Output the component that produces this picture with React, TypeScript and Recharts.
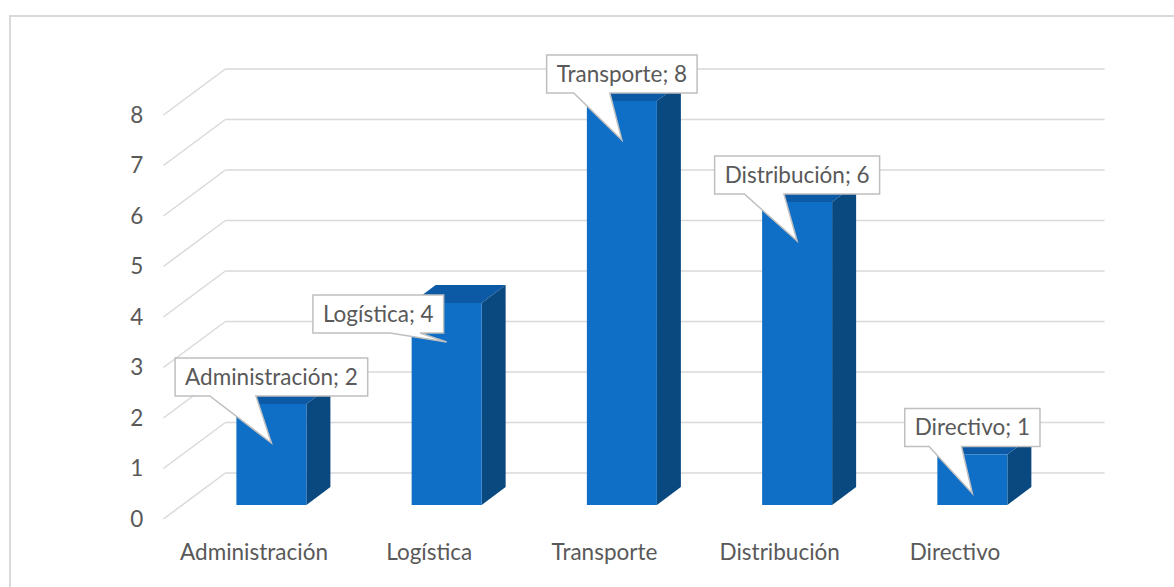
import React from "react";
import { BarChart, Bar, XAxis, YAxis, CartesianGrid, LabelList } from "recharts";

const categories = ["Administración", "Logística", "Transporte", "Distribución", "Directivo"];
const counts = [2, 4, 8, 6, 1];
const yTicks = [0, 1, 2, 3, 4, 5, 6, 7, 8];

// where each callout sits relative to its bar
const calloutPlacement = ["above", "left", "above", "above", "above"];

const data = categories.map((name, i) => ({ name, value: counts[i] }));

const FONT = "Lato, 'Liberation Sans', sans-serif";
const FONT_SIZE = 22.5;
const TEXT = "#595959";
const GRID = "#d9d9d9";
const FRONT = "#0f6fc6";
const TOP = "#0c5aa6";
const SIDE = "#0a4880";
const DEPTH_X = 24;
const DEPTH_Y = 18;

let ctx: CanvasRenderingContext2D | null = null;
function measure(text: string) {
  if (!ctx) ctx = document.createElement("canvas").getContext("2d");
  if (!ctx) return text.length * FONT_SIZE * 0.5;
  ctx.font = `${FONT_SIZE}px ${FONT}`;
  return ctx.measureText(text).width;
}

function gridLine(p: any) {
  const { x1, x2, y1, index } = p;
  const back = y1 - 32;
  return (
    <g key={`grid-${index}`}>
      <line x1={x1 - 20} y1={y1 + 14} x2={x1 + 42} y2={back} stroke={GRID} strokeWidth={1.5} />
      <line x1={x1 + 42} y1={back} x2={x2 + 45} y2={back} stroke={GRID} strokeWidth={1.5} />
    </g>
  );
}

function Bar3D(p: any) {
  const { x, y, width, height } = p;
  if (!height) return null;
  const r = x + width;
  const b = y + height;
  return (
    <g>
      <polygon
        points={`${x},${y} ${r},${y} ${r + DEPTH_X},${y - DEPTH_Y} ${x + DEPTH_X},${y - DEPTH_Y}`}
        fill={TOP}
      />
      <polygon
        points={`${r},${y} ${r + DEPTH_X},${y - DEPTH_Y} ${r + DEPTH_X},${b - DEPTH_Y} ${r},${b}`}
        fill={SIDE}
      />
      <rect x={x} y={y} width={width} height={height} fill={FRONT} />
    </g>
  );
}

function Callout(p: any) {
  const { x, y, width, value, index } = p;
  const cx = x + width / 2;
  const label = `${categories[index]}; ${value}`;
  const w = measure(label) + 20;
  const h = 38;
  let left: number, top: number, b0: number, b1: number;
  if (calloutPlacement[index] === "left") {
    left = cx - 3 - w;
    top = y + 30 - h;
    b0 = left + 0.59 * w;
    b1 = left + 0.82 * w;
  } else {
    left = cx - w / 2;
    top = y - 8 - h;
    b0 = left + 0.18 * w;
    b1 = left + 0.42 * w;
  }
  const bottom = top + h;
  const tipY = y + 39;
  const d = `M${left},${top} H${left + w} V${bottom} H${b1} L${cx},${tipY} L${b0},${bottom} H${left} Z`;
  return (
    <g>
      <path d={d} fill="#ffffff" stroke="#bfbfbf" strokeWidth={1.5} />
      <text
        x={left + w / 2}
        y={top + h / 2}
        dy="0.35em"
        textAnchor="middle"
        fontFamily={FONT}
        fontSize={FONT_SIZE}
        fill={TEXT}
      >
        {label}
      </text>
    </g>
  );
}

function YTick(p: any) {
  return (
    <text
      x={p.x}
      y={p.y + 14}
      dy="0.35em"
      textAnchor="end"
      fontFamily={FONT}
      fontSize={FONT_SIZE}
      fill={TEXT}
    >
      {p.payload.value}
    </text>
  );
}

function XTick(p: any) {
  return (
    <text
      x={p.x - 17}
      y={p.y + 47}
      dy="0.35em"
      textAnchor="middle"
      fontFamily={FONT}
      fontSize={FONT_SIZE}
      fill={TEXT}
    >
      {p.payload.value}
    </text>
  );
}

export default function App() {
  return (
    <div style={{ position: "absolute", left: 0, top: 0, width: 1174, height: 587, overflow: "hidden", background: "#fff" }}>
      <div
        style={{
          position: "absolute",
          left: 9,
          top: 15,
          width: 1165,
          height: 572,
          boxSizing: "border-box",
          borderLeft: `2px solid ${GRID}`,
          borderTop: `2px solid ${GRID}`,
        }}
      />
      <div style={{ position: "absolute", left: 0, top: 0 }}>
        <BarChart
          width={1174}
          height={587}
          data={data}
          margin={{ top: 101, right: 114.4, bottom: 42, left: 123.4 }}
        >
          <CartesianGrid horizontal={gridLine} vertical={false} />
          <XAxis
            dataKey="name"
            height={40}
            axisLine={false}
            tickLine={false}
            tickSize={0}
            tickMargin={0}
            tick={XTick}
            interval={0}
          />
          <YAxis
            width={60}
            domain={[0, 8]}
            ticks={yTicks}
            axisLine={false}
            tickLine={false}
            tickSize={0}
            tickMargin={40}
            tick={YTick}
          />
          <Bar dataKey="value" barSize={70} shape={Bar3D} isAnimationActive={false}>
            <LabelList dataKey="value" content={Callout} />
          </Bar>
        </BarChart>
      </div>
    </div>
  );
}
